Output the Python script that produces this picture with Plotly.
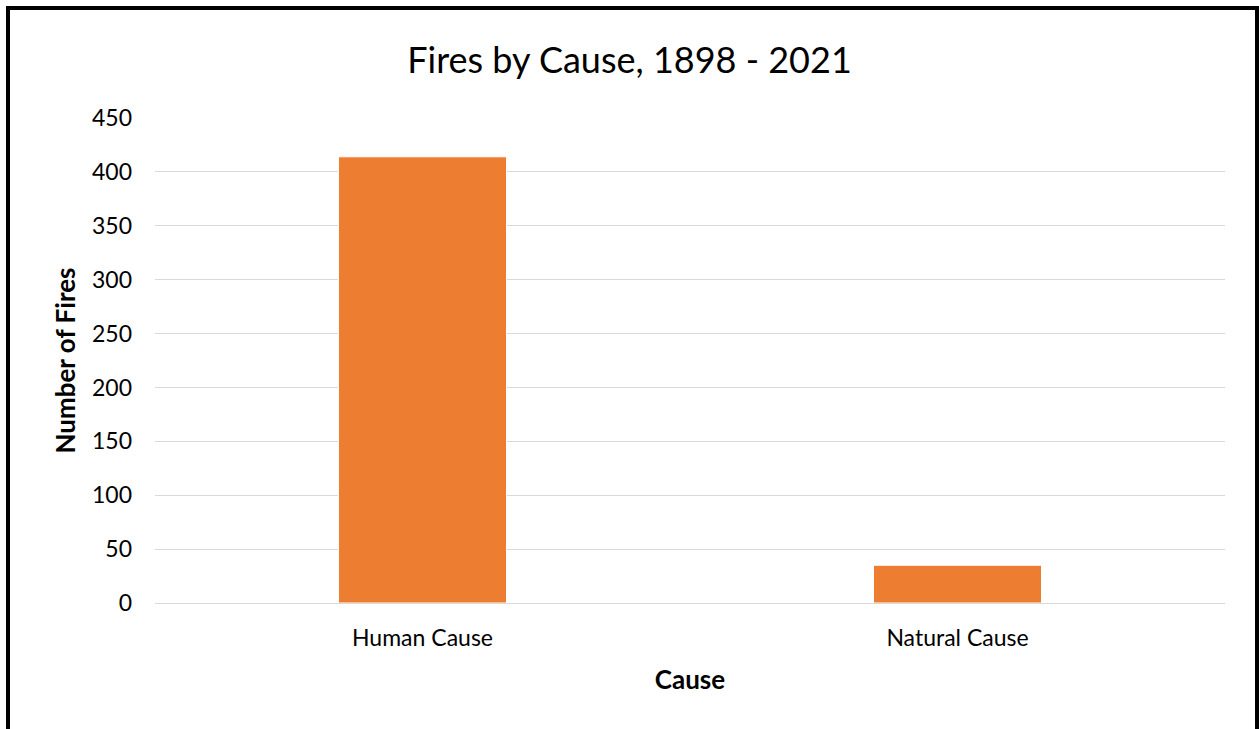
import plotly.graph_objects as go

categories = ["Human Cause", "Natural Cause"]
fires = [414, 35]
y_ticks = [0, 50, 100, 150, 200, 250, 300, 350, 400, 450]

W, H = 1259, 729
L, R, T, B = 155, 34, 118, 126
pw, ph = W - L - R, H - T - B

def px_x(x):
    return (x - L) / pw

def px_y(y):
    return (H - B - y) / ph

font_family = "Lato, Open Sans, sans-serif"

fig = go.Figure(
    go.Bar(
        x=categories,
        y=fires,
        marker=dict(color="#ED7D31", line=dict(color="#ffffff", width=1)),
    )
)

fig.update_layout(
    width=W,
    height=H,
    margin=dict(l=L, r=R, t=T, b=B),
    paper_bgcolor="white",
    plot_bgcolor="white",
    bargap=0.686,
    showlegend=False,
    font=dict(family=font_family, color="#000000"),
    title=dict(
        text="Fires by Cause, 1898 - 2021",
        x=0.5,
        xanchor="center",
        xref="container",
        y=1 - 60 / H,
        yanchor="middle",
        font=dict(size=36, color="#000000", family=font_family),
    ),
    xaxis=dict(
        showgrid=False,
        showline=True,
        linecolor="#d9d9d9",
        linewidth=1,
        ticks="",
        tickfont=dict(size=23, color="#000000"),
        ticklabelstandoff=14,
        title=dict(text="<b>Cause</b>", font=dict(size=26, color="#000000"), standoff=21),
    ),
    yaxis=dict(
        range=[0, 450],
        tickvals=y_ticks,
        showgrid=True,
        gridcolor="#d9d9d9",
        gridwidth=1,
        zeroline=False,
        showline=False,
        ticks="",
        tickfont=dict(size=23, color="#000000"),
        ticklabelstandoff=22,
        title=dict(text="<b>Number of Fires</b>", font=dict(size=26, color="#000000"), standoff=8),
    ),
    shapes=[
        dict(
            type="rect",
            xref="paper",
            yref="paper",
            x0=px_x(8),
            x1=px_x(1257),
            y0=px_y(760),
            y1=px_y(8),
            line=dict(color="#000000", width=4),
            fillcolor="rgba(0,0,0,0)",
            layer="above",
        )
    ],
)

fig.write_html("out.html")
